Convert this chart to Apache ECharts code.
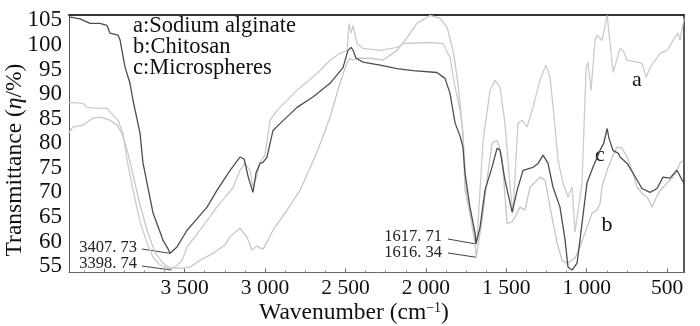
<!DOCTYPE html>
<html><head><meta charset="utf-8">
<script src="https://cdn.jsdelivr.net/npm/echarts@6/dist/echarts.min.js"></script>
<style>html,body{margin:0;padding:0;background:#fff}#c{width:700px;height:326px}</style>
</head><body><div id="c"></div>
<script>
// c: Microspheres (dark)
const wnC = [4000,3936,3877,3819,3778,3760,3713,3701,3672,3643,3625,3584,3567,3543,3508,3450,3420,3407.73,3368,3309,3274,3192,3134,3057,2999,2975,2950,2923,2905,2882,2864,2841,2806,2765,2665,2572,2472,2396,2367,2349,2337,2320,2279,2179,2080,1986,1846,1799,1770,1740,1711,1694,1682,1653,1623,1617.71,1594,1565,1524,1494,1477,1448,1406,1377,1342,1284,1254,1225,1196,1167,1126,1096,1079,1055,1026,1009,968,933,891,870,850,839,815,786,774,733,698,646,599,558,523,482,441,411,400];
const tC = [105.7,105.3,104.4,104.4,104.0,102.4,102.0,101.0,95.5,92.2,88.7,82.0,76.0,71.9,65.8,60.3,58.5,57.6,58.9,62.3,63.7,67.0,70.4,74.5,77.2,76.8,73.0,70.0,74.0,75.9,76.1,77.2,82.6,84.0,87.3,89.4,92.2,95.4,98.9,99.5,98.9,97.3,96.5,95.9,95.2,94.8,94.4,93.2,90.2,84.1,81.5,79.2,73.9,67.0,61.7,59.5,62.9,70.4,75.1,79.0,78.6,72.5,66.0,70.4,74.5,75.1,75.9,77.6,75.9,71.1,67.0,60.3,54.8,54.2,55.6,60.3,71.9,75.1,78.6,80.0,83.0,81.0,78.5,78.0,77.2,75.9,73.9,70.8,70.0,70.8,73.1,72.9,74.5,72.5,71.9];
// a: Sodium alginate (light)
const wnA = [4000,3918,3895,3819,3778,3742,3713,3684,3660,3625,3584,3543,3508,3467,3420,3379,3338,3309,3233,3134,3040,2999,2970,2940,2923,2899,2882,2853,2823,2782,2665,2548,2472,2414,2373,2361,2349,2337,2314,2279,2179,2080,2045,1887,1811,1770,1740,1711,1694,1670,1635,1612,1576,1535,1506,1477,1448,1418,1401,1372,1348,1319,1284,1243,1208,1184,1155,1137,1108,1079,1055,1038,1020,997,973,962,944,921,909,880,850,839,815,774,757,733,675,646,622,599,540,499,464,435,423,400];
const tA = [88.3,88.1,87.3,87.1,87.1,85.7,84.7,82.0,76.5,70.4,64.0,59.7,56.8,55.2,54.6,54.8,56.2,58.9,62.3,67.0,71.0,74.5,75.9,74.5,71.0,73.5,76.1,77.6,84.7,86.7,90.8,94.2,96.9,98.3,98.9,104.4,102.4,104.0,100.3,99.3,98.9,99.5,100.3,100.5,100.3,97.5,91.4,86.7,82.0,68.4,62.9,60.3,80.6,90.8,92.8,91.4,84.1,71.1,65.8,84.1,84.7,83.3,87.3,92.8,95.9,93.4,83.3,76.5,71.9,69.0,71.1,61.9,66.4,71.9,95.4,96.5,90.8,100.9,102.0,100.9,106.0,102.4,94.4,99.3,98.9,96.9,96.5,96.3,93.4,95.4,98.3,98.9,100.9,102.4,101.0,105.4];
// b: Chitosan (light)
const wnB = [4000,3977,3918,3860,3819,3760,3719,3690,3655,3625,3584,3543,3497,3450,3409,3398.74,3333,3292,3233,3157,3087,3057,2999,2958,2929,2899,2882,2864,2835,2806,2724,2648,2548,2472,2414,2373,2355,2337,2314,2238,2162,2080,2021,1963,1887,1828,1787,1752,1723,1694,1682,1664,1623,1616.34,1582,1553,1524,1494,1465,1436,1406,1389,1360,1331,1301,1243,1213,1184,1143,1114,1085,1038,1009,968,938,909,891,880,850,815,792,763,733,698,675,646,616,587,570,540,499,464,423,405];
const tB = [82.2,83.3,83.7,85.1,85.3,84.7,83.7,82.0,78.0,73.5,67.4,62.3,57.8,55.6,54.6,54.2,54.6,54.8,56.2,57.6,59.3,61.0,62.7,60.9,58.3,59.1,58.7,58.5,60.3,62.3,66.4,70.4,78.2,85.3,92.2,96.3,97.3,96.9,97.3,97.3,96.9,98.9,101.5,104.4,106.0,105.4,103.6,98.9,92.2,82.0,70.4,67.8,59.7,56.8,64.3,72.5,80.0,80.6,77.2,63.7,64.0,65.0,67.0,66.4,71.1,73.1,72.5,67.0,59.7,56.2,55.6,56.6,58.9,62.9,65.8,66.4,67.8,71.1,74.5,77.6,79.2,79.0,77.2,73.9,71.1,69.8,69.0,67.0,68.4,70.4,71.9,73.1,76.0,76.5];

const xTickLabels = [3500,3000,2500,2000,1500,1000,500];
const yTickLabels = [55,60,65,70,75,80,85,90,95,100,105];
const legendLines = ['a:Sodium alginate','b:Chitosan','c:Microspheres'];
const curveTags = ['a','b','c'];
// peak annotations
const peakWn = [3407.73, 3398.74, 1617.71, 1616.34];
const peakT = [57.6, 54.2, 59.5, 56.8];
const peakText = ['3407. 73','3398. 74','1617. 71','1616. 34'];

const pair = (w, t) => w.map((v, i) => [v, t[i]]);
const SERIF = '"Liberation Serif","Times New Roman",serif';
const fmtWn = v => v >= 1000 ? Math.floor(v/1000) + ' ' + String(v % 1000).padStart(3, '0') : String(v);

const chart = echarts.init(document.getElementById('c'), null, {renderer: 'canvas'});
const option = {
  animation: false,
  backgroundColor: '#fff',
  grid: {left: 69, right: 16, top: 15, bottom: 53.5, outerBoundsMode: 'none'},
  xAxis: [
    {type: 'value', position: 'bottom', inverse: true, min: 400, max: 4000,
     axisLine: {show: true, lineStyle: {color: '#666', width: 1}},
     axisTick: {show: false}, axisLabel: {show: false}, splitLine: {show: false}},
    {type: 'value', position: 'bottom', inverse: true, min: 395, max: 4219, splitNumber: 7,
     axisLine: {show: false},
     axisTick: {show: true, inside: true, length: 4, lineStyle: {color: '#666'}},
     minorTick: {show: true, splitNumber: 4, length: 2, lineStyle: {color: '#888'}},
     axisLabel: {show: true, margin: 5, color: '#111', fontFamily: SERIF, fontSize: 21.5,
       formatter: v => xTickLabels.includes(v) ? fmtWn(v) : ''},
     splitLine: {show: false}},
    {type: 'value', position: 'top', min: 0, max: 1,
     axisLine: {show: true, lineStyle: {color: '#333', width: 2}},
     axisTick: {show: false}, axisLabel: {show: false}, splitLine: {show: false}}
  ],
  yAxis: [
    {type: 'value', position: 'left', min: 53.7, max: 106.1, splitNumber: 10,
     axisLine: {show: true, lineStyle: {color: '#444', width: 1, type: 'dotted'}},
     axisTick: {show: false},
     axisLabel: {show: true, margin: 7, color: '#111', fontFamily: SERIF, fontSize: 23,
       formatter: v => yTickLabels.includes(v) ? String(v) : ''},
     splitLine: {show: false}},
    {type: 'value', position: 'right', min: 0, max: 1,
     axisLine: {show: true, lineStyle: {color: '#222', width: 1.5}},
     axisTick: {show: false}, axisLabel: {show: false}, splitLine: {show: false}}
  ],
  series: [
    {name: 'b', type: 'line', xAxisIndex: 0, yAxisIndex: 0, data: pair(wnB, tB), showSymbol: false, silent: true,
     lineStyle: {color: '#c6c6c6', width: 1.3}},
    {name: 'a', type: 'line', xAxisIndex: 0, yAxisIndex: 0, data: pair(wnA, tA), showSymbol: false, silent: true,
     lineStyle: {color: '#cbcbcb', width: 1.3}},
    {name: 'c', type: 'line', xAxisIndex: 0, yAxisIndex: 0, data: pair(wnC, tC), showSymbol: false, silent: true,
     lineStyle: {color: '#4d4d4d', width: 1.3}}
  ]
};
chart.setOption(option);

const g = [];
legendLines.forEach((t, i) => g.push({type: 'text', x: 133, y: 26 + i * 21, silent: true,
  style: {text: t, font: '22.5px ' + SERIF, fill: '#111', align: 'left', verticalAlign: 'middle'}}));
const tagPos = [[637, 80], [607, 225], [600, 155]];
curveTags.forEach((t, i) => g.push({type: 'text', x: tagPos[i][0], y: tagPos[i][1], silent: true,
  style: {text: t, font: '22px ' + SERIF, fill: '#111', align: 'center', verticalAlign: 'middle'}}));
const annTextPos = [[137, 248], [137, 264], [442, 237], [442, 253]];
const annLineStart = [[142, 249], [142, 266], [448, 239], [448, 253]];
peakText.forEach((t, i) => {
  const p = chart.convertToPixel({xAxisIndex: 0, yAxisIndex: 0}, [peakWn[i], peakT[i]]);
  g.push({type: 'text', x: annTextPos[i][0], y: annTextPos[i][1], silent: true,
    style: {text: t, font: '16.5px ' + SERIF, fill: '#222', align: 'right', verticalAlign: 'middle'}});
  g.push({type: 'line', silent: true, shape: {x1: annLineStart[i][0], y1: annLineStart[i][1], x2: p[0], y2: p[1]},
    style: {stroke: '#444', lineWidth: 1}});
});
g.push({type: 'text', x: 354, y: 313, silent: true,
  style: {text: 'Wavenumber (cm{sup|−1})', font: '23.5px ' + SERIF, fill: '#111', align: 'center', verticalAlign: 'middle',
    rich: {sup: {fontSize: 14, fontFamily: SERIF, padding: [0, 0, 10, 0]}}}});
g.push({type: 'text', x: 15, y: 160, rotation: Math.PI / 2, silent: true,
  style: {text: 'Transmittance ({i|η}/%)', font: '23.5px ' + SERIF, fill: '#111', align: 'center', verticalAlign: 'middle',
    rich: {i: {fontStyle: 'italic', fontSize: 23.5, fontFamily: SERIF}}}});
chart.setOption({graphic: g});
</script>
</body></html>
